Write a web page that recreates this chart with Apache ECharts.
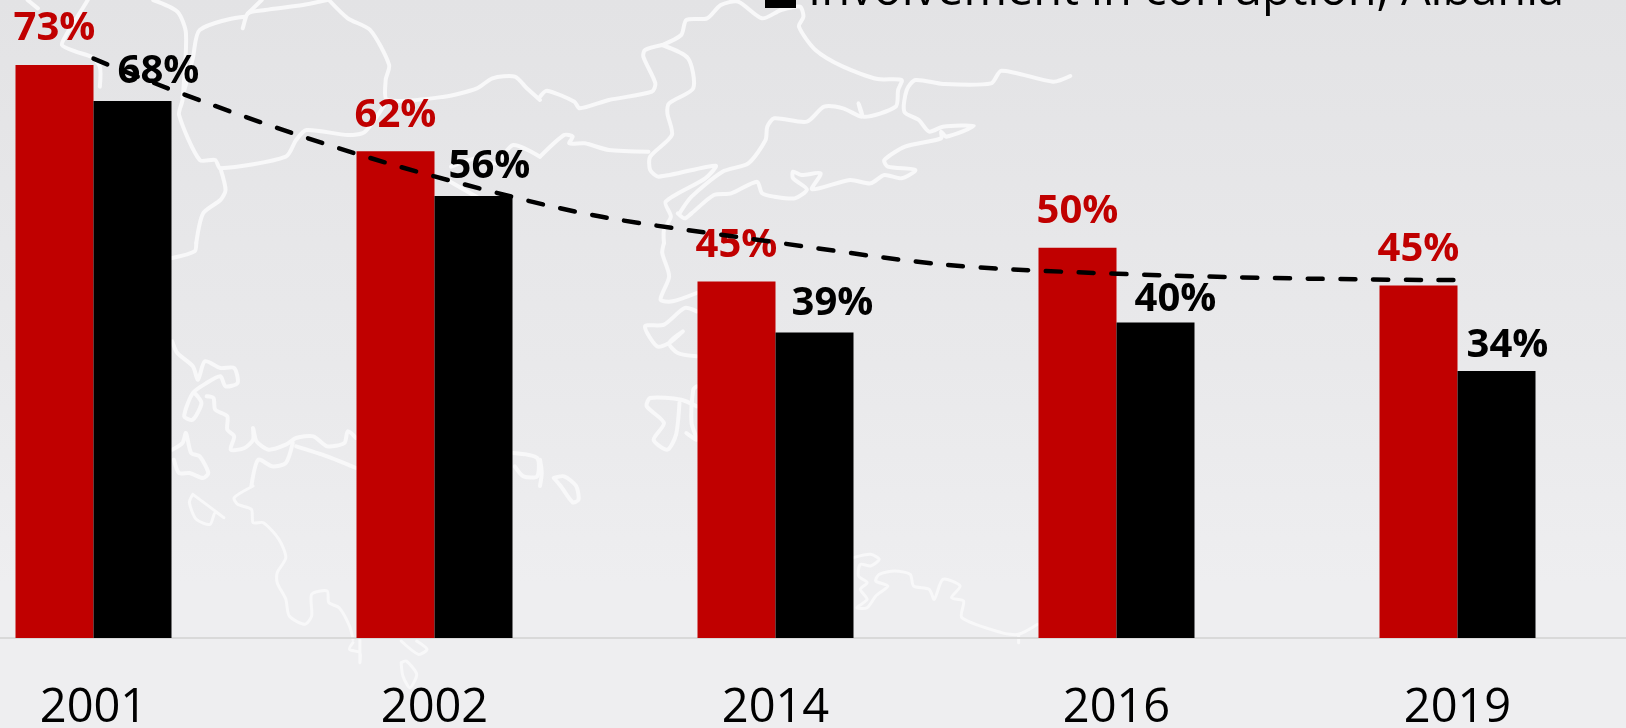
<!DOCTYPE html>
<html>
<head>
<meta charset="utf-8">
<style>html,body{margin:0;padding:0;background:#eee}#c{width:1626px;height:728px}</style>
<script src="https://cdn.jsdelivr.net/npm/echarts@6/dist/echarts.min.js"></script>
</head>
<body>
<div id="c"></div>
<script>
var categories = ['2001','2002','2014','2016','2019'];
var redValues = [73.0, 62.0, 45.4, 49.7, 44.9];
var blackValues = [68.4, 56.3, 38.9, 40.2, 34.0];
var trendValues = [73.8, 58.8, 50.4, 46.4, 45.6];
var blackLegend = 'Involvement in corruption, Albania';

// label placement (px) relative to the top-centre of each bar
var redLabelShift = [[0,0],[0,0],[0,0],[0,0],[0,0]];
var blackLabelShift = [[26,0],[16,0],[18,0],[20,6],[11,4]];

// decorative background map: outlines, [originX, originY, points in 2.904x / 3x crop units]
var mapOutlines = [
 [540,0,[355,135,410,105,425,60,485,55,525,15,575,5,645,55,700,30,755,20,765,50,752,80,800,150,880,200,980,237,1050,240,1040,270,1033,320,940,350,925,310,935,350,880,325,825,320,775,365,680,355,660,380,655,420,605,490,530,515,440,590,405,640]],
 [540,0,[1540,228,1490,245,1340,212,1310,250,1170,252,1090,240,1065,270,1058,335,1100,360,1130,395,1170,380,1260,378,1180,410,1165,395,1165,415,1060,440,1000,480,1010,500,1090,510,1050,535,1000,525,960,550,900,540,790,568,815,520,760,525,735,515,735,535,775,568,740,595,680,590,645,580,630,545,555,580,505,585,440,640,420,655,400,640]],
 [540,0,[355,135,305,150,300,170,335,250,325,275,200,300,115,325,100,305,20,272,0,290]],
 [540,0,[355,135,430,175,445,265,375,310,370,340,383,405,320,470,320,510,345,530,510,497,480,535,365,605,380,650,360,690,360,729]],
 [540,0,[0,470,70,405,95,410,85,430,130,430,200,450,315,455]],
 [0,0,[1568,300,1530,265,1495,230,1430,235,1385,265,1290,290,1125,300,1120,240,1130,195,1075,90,1010,55,955,0]],
 [0,0,[1125,300,1060,395,1010,405,890,390,860,420,830,470,640,505,625,480,580,480,520,345,530,300,540,100,515,35,445,0]],
 [0,0,[640,505,655,570,640,600,590,640,570,729]],
 [0,0,[530,290,560,175,580,90,710,50,705,85,720,40,770,30,880,15,950,0]],
 [0,0,[720,40,760,0]],
 [0,0,[80,0,110,25]],
 [0,0,[255,0,225,50,195,100,180,135,220,155,265,170,290,200,290,260]],
 [0,0,[1568,470,1490,435,1440,490,1385,475,1310,500]],
 [0,0,[1290,535,1400,600]],
 [0,243,[570,0,565,25,500,45]],
 [0,243,[500,295,515,330,560,370,575,410,595,355,640,375,680,375,690,420,655,430,640,400,600,420,560,450,535,520,560,530,585,480,565,450]],
 [0,243,[600,460,620,465,625,500,660,520,660,560,680,580,670,620,710,615,735,590,735,555,745,595,780,620,830,605,860,585,910,580,950,610,1000,600,1010,565,1034,585]],
 [0,243,[850,600,830,660,790,670,750,650,730,729]],
 [0,243,[860,610,950,640,1034,675]],
 [0,243,[500,620,530,600,540,570,555,630,580,640,605,690,590,705,550,690,520,690,505,650]],
 [0,243,[1490,630,1560,645,1560,700,1520,700,1495,670]],
 [0,486,[560,25,550,50,570,100,610,115,625,80,650,95,560,25]],
 [0,486,[735,0,680,35,690,55,730,70,735,110,765,110,810,160,830,215,805,260,805,290,830,340,840,390,885,415,905,390,905,325,950,315,955,350,985,365,1015,420,1025,460]],
 [0,486,[1025,470,1015,490,1045,500,1045,530,1045,460]],
 [0,486,[1165,465,1215,505,1240,490,1210,465]],
 [0,486,[1165,530,1170,570,1190,605,1210,565,1180,525,1165,530]],
 [540,243,[360,0,355,30,375,100,350,170,385,175,455,150]],
 [540,243,[455,205,420,195,360,245,305,250,340,310,375,300,415,265,375,300,400,330,455,340]],
 [540,243,[455,490,410,470,320,465,310,490,360,540,330,590,370,620,395,575,405,480]],
 [540,243,[425,570,455,590,440,540,445,440,455,430]],
 [540,243,[0,650,5,690,0,729]],
 [540,243,[40,705,70,700,105,729,112,770,95,778,60,729,40,705]],
 [540,486,[910,215,960,205,985,220,960,240,930,235,925,270,950,290,930,310,950,340,920,365,950,365,975,330,1010,300,975,285,985,265,1030,255,1075,265,1085,300,1130,310,1145,340,1170,280,1220,300,1195,335,1230,345,1225,395,1340,440,1390,445,1445,415]],
 [540,486,[1390,445,1390,470]]
];

function outlineGraphic(o){
  var pts = [];
  for (var i = 0; i < o[2].length; i += 2) {
    pts.push([o[0] + o[2][i] / 2.904, o[1] + o[2][i + 1] / 3]);
  }
  return {type:'polyline', silent:true, z:-10,
    shape:{points:pts, smooth:0.25},
    style:{stroke:'#f8f8f9', lineWidth:o[1] >= 486 ? 3 : 4, fill:null, lineJoin:'round', lineCap:'round'}};
}

function labelled(values, shifts){
  return values.map(function(v, i){
    return {value:v, label:{offset:shifts[i]}};
  });
}

function pct(p){ return Math.round(p.value) + '%'; }

var chart = echarts.init(document.getElementById('c'), null, {renderer:'canvas'});
chart.setOption({
  animation:false,
  backgroundColor:{type:'linear',x:0,y:0,x2:0,y2:1,colorStops:[
    {offset:0,color:'#e3e3e5'},{offset:0.5,color:'#e9e9eb'},{offset:0.8,color:'#eeeef0'},{offset:1,color:'#eeeef0'}]},
  graphic:{elements:mapOutlines.map(outlineGraphic)},
  grid:{left:-77,right:-2,top:0,bottom:90,outerBoundsMode:'none'},
  legend:{
    data:[{name:blackLegend,icon:'rect'}],
    left:760, top:-37, itemWidth:31, itemHeight:33, itemGap:16, selectedMode:false,
    textStyle:{fontFamily:'"Open Sans"',fontSize:47,color:'#000',padding:[0,0,0,7]}
  },
  xAxis:{
    type:'category', data:categories,
    axisTick:{show:false},
    axisLine:{lineStyle:{color:'#d9d9d9',width:2}},
    axisLabel:{fontFamily:'"Open Sans"',fontSize:47,color:'#000',margin:47}
  },
  yAxis:{type:'value',min:0,max:81.27,show:false,splitLine:{show:false}},
  series:[
    {name:'Red series',type:'bar',barWidth:78,barGap:'0%',itemStyle:{color:'#c00000'},
     data:labelled(redValues,redLabelShift),
     label:{show:true,position:'top',distance:16,color:'#c00000',formatter:pct,fontFamily:'"Open Sans"',fontWeight:700,fontSize:40}},
    {name:blackLegend,type:'bar',barWidth:78,barGap:'0%',itemStyle:{color:'#000'},
     data:labelled(blackValues,blackLabelShift),
     label:{show:true,position:'top',distance:9,color:'#000',formatter:pct,fontFamily:'"Open Sans"',fontWeight:700,fontSize:40}},
    {name:'Trend',type:'line',z:5,smooth:0.5,symbol:'none',silent:true,
     lineStyle:{color:'#000',width:4.5,type:[15,17.7],cap:'round'},
     data:trendValues}
  ]
});
</script>
</body>
</html>
